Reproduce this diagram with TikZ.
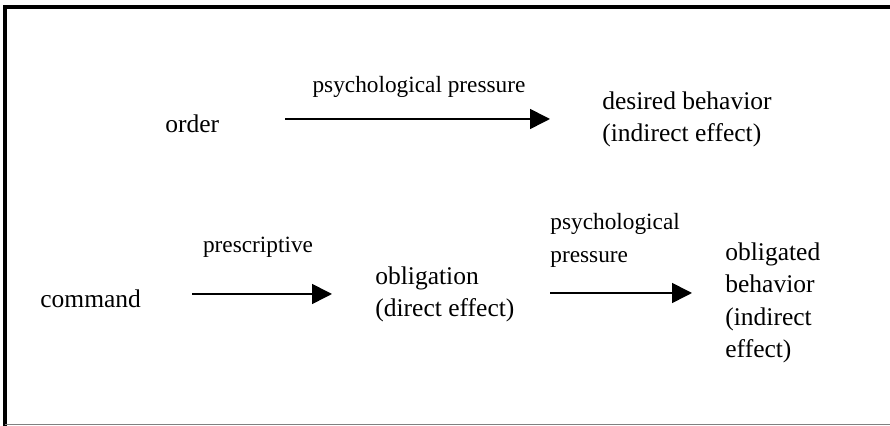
\documentclass[tikz,border=0pt]{standalone}
\usepackage{fontspec}
\setmainfont{Liberation Serif}
\usetikzlibrary{arrows.meta}
\usetikzlibrary{positioning}

\begin{document}
\begin{tikzpicture}[x=0.5pt,y=-0.5pt,
        term/.style={anchor=base west, inner sep=0pt, align=left, font=\fontsize{12.75}{16.25}\selectfont},
        lbl/.style={inner sep=0pt, align=left, font=\fontsize{11.65}{16.5}\selectfont},
        flow/.style={line width=0.8pt, -{Triangle[length=10pt,width=10pt]}}]
        \useasboundingbox (0,0) rectangle (890,426);
        \draw[line width=2pt] (5,426) -- (5,7) -- (890,7);
        \draw[gray, line width=0.75pt] (5,424.5) -- (890,424.5);

        % multi-line texts sit on the baseline of their last line
        \node[term] (order) at (165,133) {order};
        \node[term] (desired) at (602,142) {desired behavior\\(indirect effect)};
        \node[term] (command) at (40,308) {command};
        \node[term] (oblig) at (375,317) {obligation\\(direct effect)};
        \node[term] (obeh) at (725,358) {obligated\\behavior\\(indirect\\effect)};

        \node[lbl, anchor=base] (pp1) at (419,93) {psychological pressure};
        \node[lbl, anchor=base] (presc) at (258,253) {prescriptive};
        \node[lbl, anchor=base west] (pp2) at (550,263) {psychological\\pressure};

        \coordinate (a1s) at (285,119);
        \coordinate (a1e) at (550,119);
        \coordinate (a2s) at (192,294);
        \coordinate (a2e) at (332,294);
        \coordinate (a3s) at (550,293);
        \coordinate (a3e) at (692,293);

        \draw[flow] (a1s) -- (a1e);
        \draw[flow] (a2s) -- (a2e);
        \draw[flow] (a3s) -- (a3e);
    \end{tikzpicture}
\end{document}
